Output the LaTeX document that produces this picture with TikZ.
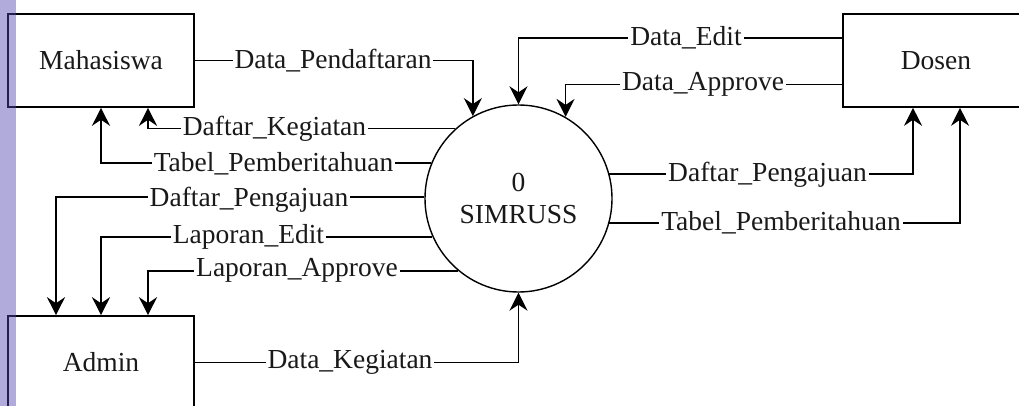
\documentclass[tikz,border=0pt]{standalone}
\usepackage{fontspec}
\setmainfont{Liberation Serif}
\usetikzlibrary{arrows.meta}
\definecolor{txt}{RGB}{25,25,25}
\definecolor{stripc}{RGB}{80,70,175}
\tikzset{
  ent/.style={draw=black, line width=1.6pt, fill=white, minimum width=186pt, minimum height=93pt, inner sep=0pt, text=txt, font=\fontsize{27.5}{32}\selectfont},
  proc/.style={draw=black, line width=1.4pt, circle, fill=white, minimum size=187pt, inner sep=0pt, align=center, text=txt, font=\fontsize{27.5}{32}\selectfont},
  flow/.style={draw=black, line width=1.7pt, -{Stealth[length=18pt, width=18pt, inset=6pt]}},
  lbl/.style={fill=white, inner xsep=2pt, inner ysep=0pt, text=txt, font=\fontsize{27.5}{32}\selectfont}
}
\begin{document}
\begin{tikzpicture}[x=1pt,y=-1pt]
\useasboundingbox (0,0) rectangle (1019,406);
\begin{scope}
\clip (0,0) rectangle (1019,406);
\fill[white] (0,0) rectangle (1019,406);
\node[ent] (mah) at (101,60.5) {Mahasiswa};
\node[ent] (dos) at (936,60.5) {Dosen};
\node[ent] (adm) at (101,362.5) {Admin};
\node[proc] (c) at (518.5,198.5) {0\\SIMRUSS};

\draw[flow] (mah.east) -| (c.119);
\draw[flow] ([yshift=22.5pt]dos.west) -| (c.90);
\draw[flow] ([yshift=-24pt]dos.west) -| (c.60);
\draw[flow] (c.132) -| ([xshift=47pt]mah.south);
\draw[flow] (c.158) -| (mah.south);
\draw[flow] (c.179) -| ([xshift=-45pt]adm.north);
\draw[flow] (c.204) -| (adm.north);
\draw[flow] (c.230) -| ([xshift=47pt]adm.north);
\draw[flow] (adm.east) -| (c.270);
\draw[flow] (c.15) -| ([xshift=-23pt]dos.south);
\draw[flow] (c.345) -| ([xshift=24pt]dos.south);

\node[lbl] (l1) at (333,60.5) {Data\_Pendaftaran};
\node[lbl] (l2) at (686,38) {Data\_Edit};
\node[lbl] (l3) at (703,84.5) {Data\_Approve};
\node[lbl] (l4) at (274.5,129) {Daftar\_Kegiatan};
\node[lbl] (l5) at (273.5,163.5) {Tabel\_Pemberitahuan};
\node[lbl] (l6) at (249,200) {Daftar\_Pengajuan};
\node[lbl] (l7) at (248.5,236.5) {Laporan\_Edit};
\node[lbl] (l8) at (297,270) {Laporan\_Approve};
\node[lbl] (l9) at (350,362.5) {Data\_Kegiatan};
\node[lbl] (l10) at (767.5,174.3) {Daftar\_Pengajuan};
\node[lbl] (l11) at (781,222.7) {Tabel\_Pemberitahuan};

\fill[stripc, opacity=0.45] (0,0) rectangle (16,406);
\end{scope}
\end{tikzpicture}
\end{document}
